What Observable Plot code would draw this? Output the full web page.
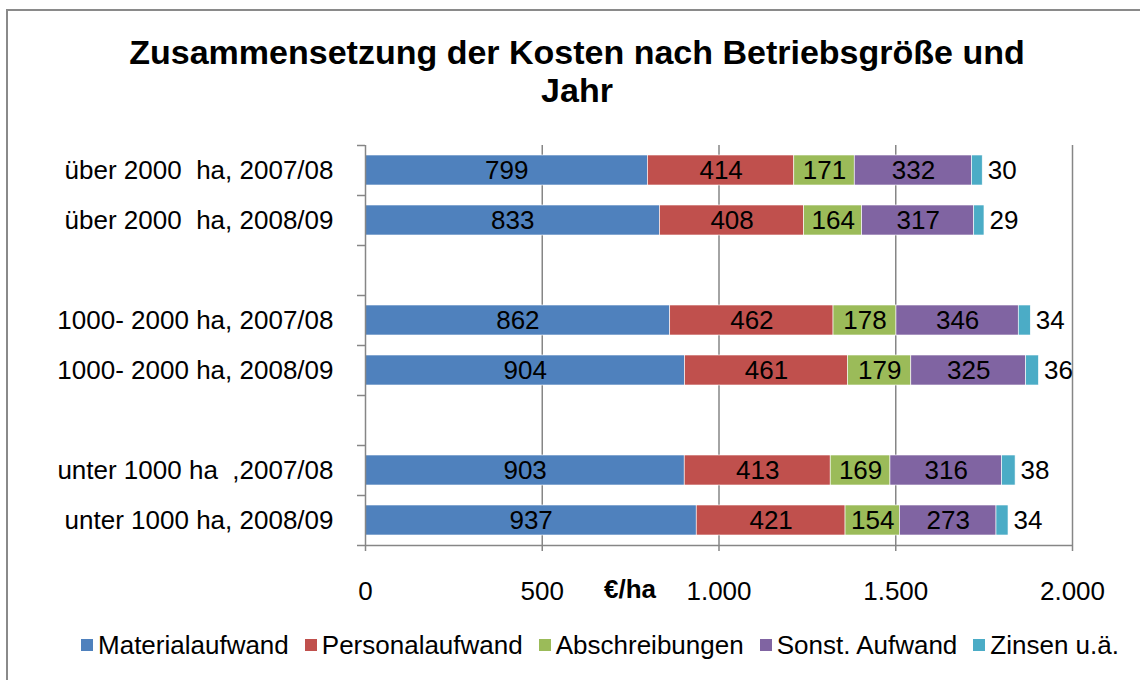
<!DOCTYPE html>
<html>
<head>
<meta charset="utf-8">
<script src="https://cdn.jsdelivr.net/npm/d3@7"></script>
<script src="https://cdn.jsdelivr.net/npm/@observablehq/plot@0.6"></script>
<style>
  html, body { margin: 0; padding: 0; background: #fff; }
  #wrap { position: relative; width: 1140px; height: 680px; overflow: hidden; font-family: "Liberation Sans", Arial, sans-serif; }
  #frame { position: absolute; left: 6px; top: 9px; width: 1200px; height: 700px; border-top: 2px solid #8a8a8a; border-left: 2px solid #8a8a8a; }
  #title { position: absolute; left: 0; top: 33px; width: 1154px; text-align: center; font-weight: bold; font-size: 34px; line-height: 38px; color: #000; }
  #chart { position: absolute; left: 0; top: 120px; }
  #chart svg text { white-space: pre; }
  #legend { position: absolute; left: 0; top: 630px; width: 1200px; display: flex; justify-content: center; gap: 16px; font-size: 26px; line-height: 30px; color: #000; }
  .item { display: flex; align-items: center; }
  .sw { width: 12px; height: 12px; margin-right: 5px; }
</style>
</head>
<body>
<div id="wrap">
  <div id="frame"></div>
  <div id="title">Zusammensetzung der Kosten nach Betriebsgröße und<br>Jahr</div>
  <div id="chart"></div>
  <div id="legend"></div>
</div>
<script>
const categories = [
  "über 2000  ha, 2007/08",
  "über 2000  ha, 2008/09",
  "1000- 2000 ha, 2007/08",
  "1000- 2000 ha, 2008/09",
  "unter 1000 ha  ,2007/08",
  "unter 1000 ha, 2008/09"
];
const seriesNames = ["Materialaufwand", "Personalaufwand", "Abschreibungen", "Sonst. Aufwand", "Zinsen u.ä."];
const seriesColors = ["#4F81BD", "#C0504D", "#9BBB59", "#8064A2", "#4BACC6"];
const materialaufwand = [799, 833, 862, 904, 903, 937];
const personalaufwand = [414, 408, 462, 461, 413, 421];
const abschreibungen  = [171, 164, 178, 179, 169, 154];
const sonstAufwand    = [332, 317, 346, 325, 316, 273];
const zinsen          = [30, 29, 34, 36, 38, 34];
const xTicks = [0, 500, 1000, 1500, 2000];

const seriesValues = [materialaufwand, personalaufwand, abschreibungen, sonstAufwand, zinsen];
const data = categories.flatMap((c, i) => seriesNames.map((s, j) => ({cat: c, series: s, value: seriesValues[j][i]})));
const yDomain = [categories[0], categories[1], " ", categories[2], categories[3], "  ", categories[4], categories[5]];

const grey = "#868686";
const fmt = d => d3.format(",")(d).replace(/,/g, ".");

const chart = Plot.plot({
  width: 1140,
  height: 495,
  marginLeft: 365,
  marginRight: 68,
  marginTop: 25,
  marginBottom: 70,
  style: {fontFamily: "'Liberation Sans', Arial, sans-serif", fontSize: "26px", color: "#000", background: "transparent", overflow: "visible"},
  x: {domain: [0, 2000]},
  y: {domain: yDomain, padding: 0},
  color: {domain: seriesNames, range: seriesColors},
  marks: [
    Plot.ruleX(xTicks.slice(1), {stroke: grey, strokeWidth: 1.5}),
    Plot.barX(data, Plot.stackX({x: "value", y: "cat", fill: "series", order: seriesNames, insetTop: 10, insetBottom: 10, stroke: "#fff", strokeWidth: 0.6})),
    Plot.text(data, Plot.stackX({x: "value", y: "cat", z: "series", order: seriesNames, text: d => d.series === seriesNames[4] ? "" : String(d.value), fill: "#000"})),
    Plot.text(data, Plot.stackX2({x: "value", y: "cat", z: "series", order: seriesNames, text: d => d.series === seriesNames[4] ? String(d.value) : "", textAnchor: "start", dx: 5, fill: "#000"})),
    Plot.ruleX([0], {stroke: grey, strokeWidth: 1.5}),
    Plot.ruleY(yDomain, {y: d => d, x1: 0, x2: 0, insetLeft: -8, dy: -25, stroke: grey, strokeWidth: 1.5}),
    Plot.ruleY([yDomain[7]], {y: d => d, x1: 0, x2: 2000, insetLeft: -8, dy: 25, stroke: grey, strokeWidth: 1.5}),
    Plot.axisY({tickSize: 0, tickPadding: 32, label: null, tickFormat: d => d.trim() ? d : ""}),
    Plot.axisX({ticks: xTicks, tickSize: 6, tickPadding: 30, stroke: grey, strokeWidth: 1.5, fill: "#000", label: null, tickFormat: fmt}),
    Plot.text(["€/ha"], {frameAnchor: "bottom", dx: -89, dy: 52, fontWeight: "bold", fill: "#000", letterSpacing: -1.5})
  ]
});
document.getElementById("chart").appendChild(chart);

const legend = document.getElementById("legend");
seriesNames.forEach((s, i) => {
  const it = document.createElement("div");
  it.className = "item";
  const sw = document.createElement("span");
  sw.className = "sw";
  sw.style.background = seriesColors[i];
  const tx = document.createElement("span");
  tx.textContent = s;
  it.appendChild(sw);
  it.appendChild(tx);
  legend.appendChild(it);
});
</script>
</body>
</html>
